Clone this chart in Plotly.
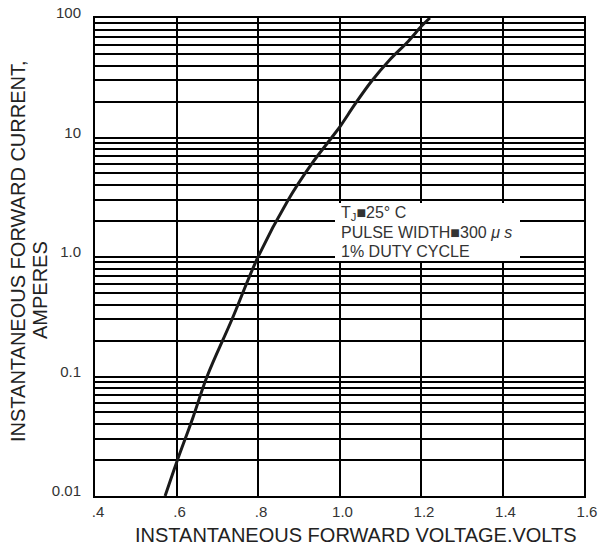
import plotly.graph_objects as go

# Forward characteristic
voltage = [0.572, 0.600, 0.640, 0.675, 0.736, 0.800, 0.874, 0.930, 0.981, 1.003, 1.038, 1.079, 1.124, 1.169, 1.202, 1.222]
current = [0.01, 0.019, 0.045, 0.10, 0.30, 1.0, 3.0, 5.9, 10.0, 12.6, 19.0, 29.7, 45.0, 64.0, 86.0, 100.0]

x_tickvals = [0.4, 0.6, 0.8, 1.0, 1.2, 1.4, 1.6]
x_ticktext = [".4", ".6", ".8", "1.0", "1.2", "1.4", "1.6"]

decades = [0.01, 0.1, 1.0, 10.0]
decade_labels = {0.01: "0.01", 0.1: "0.1", 1.0: "1.0", 10.0: "10", 100.0: "100"}

y_tickvals = []
y_ticktext = []
for d in decades:
    for m in range(1, 10):
        v = round(m * d, 6)
        y_tickvals.append(v)
        y_ticktext.append(decade_labels.get(v, ""))
y_tickvals.append(100.0)
y_ticktext.append("100")

note_lines = ["T<sub>J</sub>■25° C", "PULSE WIDTH■300 <i>μ s</i>", "1% DUTY CYCLE"]

# pixel geometry of the plot area in the 606x548 window
PL, PR, PT, PB = 95, 584, 18, 496
PW, PH = PR - PL, PB - PT


def px(x):
    return (x - PL) / PW


def py(y):
    return (PB - y) / PH


fig = go.Figure()
fig.add_trace(go.Scatter(
    x=voltage, y=current, mode="lines",
    line=dict(color="#1a1a1a", width=3, shape="spline", smoothing=1.0),
    showlegend=False, hoverinfo="skip",
))

FONT = "Liberation Sans, Arial, sans-serif"
W, H = 606, 548

fig.update_layout(
    width=W, height=H,
    margin=dict(l=PL, r=W - PR, t=PT, b=H - PB, autoexpand=False),
    paper_bgcolor="white", plot_bgcolor="white",
    font=dict(family=FONT, color="#222"),
)
fig.update_xaxes(
    range=[0.4, 1.6], tickvals=x_tickvals, ticktext=x_ticktext,
    showgrid=True, gridcolor="black", gridwidth=2,
    showline=True, linecolor="black", linewidth=2, mirror=True,
    ticks="", tickfont=dict(size=15, color="#333"),
    ticklabelshift=3, ticklabelstandoff=1, zeroline=False, automargin=False,
    ticklabeloverflow="allow",
)
fig.update_yaxes(
    type="log", range=[-2, 2], tickvals=y_tickvals, ticktext=y_ticktext,
    showgrid=True, gridcolor="black", gridwidth=2,
    showline=True, linecolor="black", linewidth=2, mirror=True,
    ticks="", tickfont=dict(size=15, color="#333"),
    ticklabelshift=-5, ticklabelstandoff=9, zeroline=False, automargin=False,
    ticklabeloverflow="allow",
)

# white note box that hides the grid
fig.add_shape(
    type="rect", xref="paper", yref="paper", layer="above",
    x0=px(335), x1=px(520), y0=py(261), y1=py(203),
    fillcolor="white", line=dict(width=0),
)
for line_text, yc in zip(note_lines, [213, 232, 251]):
    fig.add_annotation(
        xref="paper", yref="paper", x=px(339), y=py(yc),
        xanchor="left", yanchor="middle", showarrow=False,
        text=line_text, font=dict(size=16, color="#333", family=FONT),
    )

fig.add_annotation(
    xref="paper", yref="paper", x=px(356), y=py(535),
    xanchor="center", yanchor="middle", showarrow=False,
    text="INSTANTANEOUS FORWARD VOLTAGE.VOLTS",
    font=dict(size=20, color="#222", family=FONT),
)
fig.add_annotation(
    xref="paper", yref="paper", x=px(18), y=py(251),
    xanchor="center", yanchor="middle", showarrow=False, textangle=-90,
    text="INSTANTANEOUS FORWARD CURRENT,",
    font=dict(size=20, color="#222", family=FONT),
)
fig.add_annotation(
    xref="paper", yref="paper", x=px(40), y=py(290),
    xanchor="center", yanchor="middle", showarrow=False, textangle=-90,
    text="AMPERES",
    font=dict(size=20, color="#222", family=FONT),
)

# remove the default 8px page margin so the figure fills the window exactly
fig.write_html(
    "out.html",
    config={"displayModeBar": False, "staticPlot": True},
    post_script="document.body.style.margin='0';document.documentElement.style.overflow='hidden';",
)
